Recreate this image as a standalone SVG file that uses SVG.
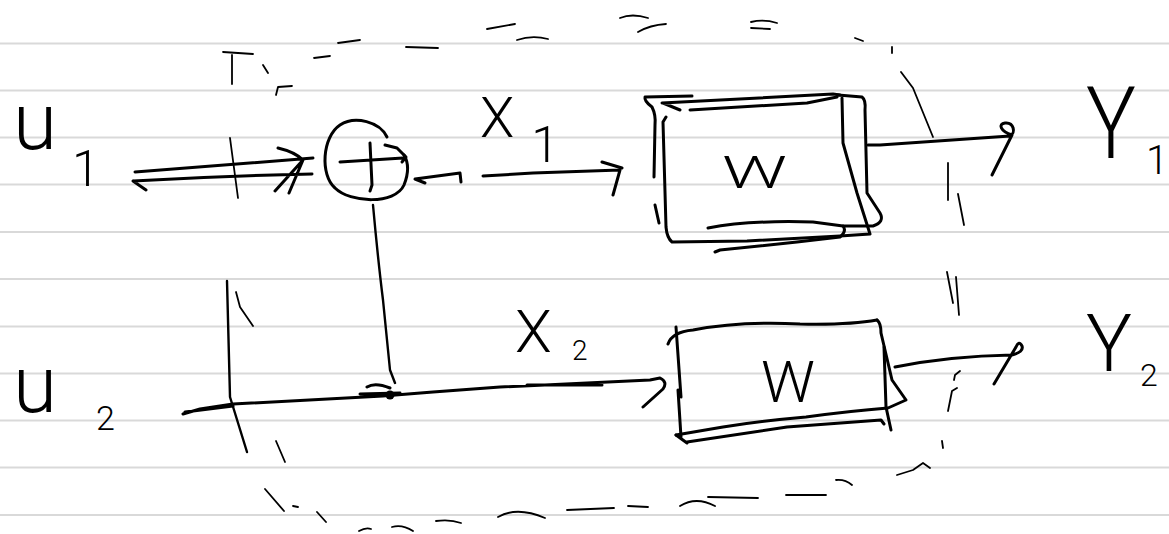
<svg xmlns="http://www.w3.org/2000/svg" width="1169" height="534" viewBox="0 0 1169 534">
<style>
.paper{stroke:#d9d9d9;stroke-width:2;fill:none}
.ink{stroke:#000;stroke-width:3;fill:none;stroke-linecap:round;stroke-linejoin:round}
.thin{stroke:#000;stroke-width:1.8;fill:none;stroke-linecap:round;stroke-linejoin:round}
.lbl{font-family:Roboto,Lato,"Liberation Sans",Arial,sans-serif;font-weight:300;fill:#000}
</style>
<rect width="1169" height="534" fill="#fff"/>
<g id="paper" class="paper">
<line x1="0" y1="43.5" x2="1169" y2="43.5"/>
<line x1="0" y1="90.5" x2="1169" y2="90.5"/>
<line x1="0" y1="137.5" x2="1169" y2="137.5"/>
<line x1="0" y1="184.5" x2="1169" y2="184.5"/>
<line x1="0" y1="232" x2="1169" y2="232"/>
<line x1="0" y1="279" x2="1169" y2="279"/>
<line x1="0" y1="326.5" x2="1169" y2="326.5"/>
<line x1="0" y1="373.5" x2="1169" y2="373.5"/>
<line x1="0" y1="420.5" x2="1169" y2="420.5"/>
<line x1="0" y1="467.5" x2="1169" y2="467.5"/>
<line x1="0" y1="515" x2="1169" y2="515"/>
</g>
<g id="boundary" class="thin">
<path d="M223,52 L253,54 M232,55 L232,84 M263,65 L268,73 M276,95 L278,87 L292,86 M314,58 L330,56 M338,43 L360,40 M406,47 L438,48 M487,29 L515,24 M517,40 Q532,35 548,39 M620,18 Q632,13 648,18 M638,32 Q650,25 666,24 M751,22 Q764,19 777,23 M751,28 L770,29 M855,38 L863,41 M892,47 L892,53 M901,72 L913,88 L933,137"/>
<path d="M948,163 L948,200 M958,194 L964,225 M947,272 L953,303 M956,277 L959,315 M960,371 L955,375 L954,380 M957,388 L952,391 L948,411 M942,441 L943,448 M897,475 L913,470 L923,463 L930,468"/>
<path d="M836,480 Q845,479 852,485 M786,495 L826,495 M708,497 L758,498 M680,506 Q696,496 715,506 M628,506 L648,507 M567,510 L614,508 M498,517 Q517,506 545,518 M436,521 Q450,519 461,523 M392,527 Q402,524 413,531 M359,531 Q366,527 371,529 M317,512 L326,522 M293,506 L298,507 M265,489 L284,511"/>
<path d="M230,138 L238,198 M236,292 L240,307 L253,326 M276,441 L285,462"/>
<path d="M227,281 L230,397 L247,452" stroke-width="2.4"/>
</g>
<g id="connectors" class="ink">
<path d="M135,172 Q220,165 313,158 M133,181 Q220,176 312,174 M133,181 L146,190 M278,148 Q295,152 303,160 L275,191 M303,160 L289,193"/>
<path d="M425,183 L415,179 L460,173 L461,182"/>
<path d="M483,176 L533,173 L620,170 L613,195 M602,162 L622,168"/>
<path d="M373,205 Q378,260 383,300 L390,370 L395,383" stroke-width="2.4"/>
<path d="M183,414 L200,409 L233,404 L383,396 L433,392 L500,387 L650,380 L660,378 Q668,382 663,389 L643,407 M527,385 L602,385 M185,412 L233,406 M360,394 L400,393 M367,387 Q375,382 390,388"/>
<circle cx="390" cy="395" r="4.5" fill="#000" stroke="none"/>
<path d="M868,145 L880,145 L1010,136 C1016,133 1014,122 1005,123 C998,124 1000,131 1012,135 L992,175"/>
<path d="M895,367 Q950,356 1012,355 Q1024,352 1022,346 Q1019,340 1016,347 L994,384"/>
</g>
<g id="in-u1">
<text class="lbl" x="13" y="149" font-size="80">u</text>
<text class="lbl" x="72" y="186" font-size="50">1</text>
</g>
<g id="in-u2">
<text class="lbl" x="13" y="412" font-size="80">u</text>
<text class="lbl" x="96" y="430" font-size="34">2</text>
</g>
<g id="adder" class="ink">
<path d="M387,137 C380,122 355,115 340,125 C322,137 320,175 335,188 C350,203 395,205 404,185 C410,170 407,160 404,155"/>
<path d="M340,162 L403,158 M385,145 L397,148 L406,157 L402,162 M370,143 L372,185 L370,191"/>
</g>
<g id="label-x1">
<text class="lbl" x="480" y="137" font-size="56">X</text>
<text class="lbl" x="545" y="162" font-size="50" text-anchor="middle">1</text>
</g>
<g id="label-x2">
<text class="lbl" x="515" y="352" font-size="60">X</text>
<text class="lbl" x="572" y="360" font-size="28">2</text>
</g>
<g id="block-w1">
<g class="ink">
<path d="M692,96 L645,97 Q644,101 652,107 Q656,115 655,125 L654,177 M655,205 L659,223"/>
<path d="M666,117 L663,122 L666,227 Q667,238 672,242 L747,241 L840,236 L870,234 M842,98 L843,143 L857,193 L870,234"/>
<path d="M662,103 L833,94 L840,95 M690,110 L807,103 L837,97 M663,103 L680,110"/>
<path d="M838,95 L862,97 Q866,100 865,110 L867,193 L880,213 Q885,222 873,226 L843,226"/>
<path d="M708,228 Q750,220 813,222 L843,226 Q847,231 840,237 L797,242 L720,250 L715,252"/>
</g>
<text class="lbl" x="722" y="188" font-size="44" textLength="65" lengthAdjust="spacingAndGlyphs">W</text>
</g>
<g id="block-w2">
<g class="ink">
<path d="M668,344 Q672,332 693,330 Q740,321 800,324 Q850,325 877,320"/>
<path d="M676,327 L681,397 M678,390 L681,437 M676,435 L687,443"/>
<path d="M877,320 Q881,323 881,333 L892,380 L906,400 L888,408 Q850,411 806,417 Q760,421 723,427 L676,435"/>
<path d="M687,442 L787,427 L881,420 L884,424 M884,347 L886,407 L891,430"/>
</g>
<text class="lbl" x="761" y="402" font-size="58" textLength="54" lengthAdjust="spacingAndGlyphs">W</text>
</g>
<g id="out-y1">
<text class="lbl" x="1086" y="158" font-size="100" textLength="50" lengthAdjust="spacingAndGlyphs">Y</text>
<text class="lbl" x="1146" y="174" font-size="40">1</text>
</g>
<g id="out-y2">
<text class="lbl" x="1086" y="371" font-size="80" textLength="46" lengthAdjust="spacingAndGlyphs">Y</text>
<text class="lbl" x="1140" y="386" font-size="32">2</text>
</g>
</svg>
